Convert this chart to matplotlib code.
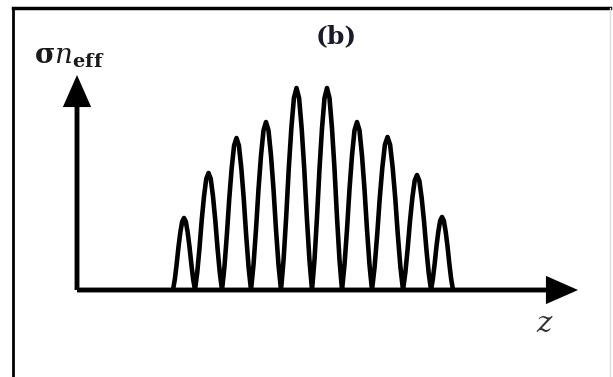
import numpy as np
import matplotlib.pyplot as plt
from matplotlib.patches import FancyArrowPatch
from matplotlib.lines import Line2D

plt.rcParams['mathtext.fontset'] = 'dejavuserif'

# peak edges along z (left/right feet) and peak heights
peak_left = [96, 118, 145, 174, 204, 235, 265, 295, 326, 354]
peak_right = [118, 145, 174, 204, 235, 265, 295, 326, 354, 376]
peak_height = [72, 117, 152, 168, 202, 202, 168, 153, 115, 73]

# shape of one lobe (fraction of height), sampled across the lobe width
lobe_u = [0, 1/12, 2/12, 3/12, 4/12, 5/12, 6/12, 7/12, 8/12, 9/12, 10/12, 11/12, 1]
lobe_f = [0, 0.15, 0.36, 0.6, 0.8, 0.95, 1.0, 0.95, 0.8, 0.6, 0.36, 0.15, 0]

zs = []
ys = []
for a, b, h in zip(peak_left, peak_right, peak_height):
    for u, f in zip(lobe_u, lobe_f):
        zs.append(a + u * (b - a))
        ys.append(h * f)

fig = plt.figure(figsize=(6.13, 3.77), dpi=100)
fig.patch.set_facecolor('white')

W, H = 613.0, 377.0
ax = fig.add_axes([77 / W, (H - 290) / H, (578 - 77) / W, (290 - 75) / H])
ax.plot(zs, ys, color='black', lw=3.3, solid_joinstyle='round')
ax.set_xlim(0, 501)
ax.set_ylim(0, 215)
ax.axis('off')

# axis arrows
for end in [(1, 0), (0, 1)]:
    arr = FancyArrowPatch((0, 0), end, transform=ax.transAxes,
                          arrowstyle='-|>,head_length=17,head_width=7.5',
                          mutation_scale=1, lw=3.5, color='black',
                          shrinkA=0, shrinkB=0, clip_on=False,
                          capstyle='butt', joinstyle='miter')
    ax.add_patch(arr)

# labels
fig.text(336 / W, 1 - 36 / H, '(b)', family='DejaVu Serif', weight='bold',
         fontsize=18, ha='center', va='center', color='#1a1a2e')
fig.text(34 / W, 1 - 64 / H, r'$\mathbf{\sigma}\mathit{n}_{\mathbf{eff}}$', fontsize=20,
         ha='left', va='baseline', color='#1a1a1a')
fig.text(545 / W, 1 - 324 / H, r'$z$', fontsize=21, ha='center',
         va='center', color='#333333')

# frame around the panel (top + left dark, faint right)
fig.add_artist(Line2D([13 / W, 610 / W], [1 - 8 / H, 1 - 8 / H], color='black', lw=2.5))
fig.add_artist(Line2D([13 / W, 13 / W], [0, 1 - 8 / H], color='black', lw=2.0))
fig.add_artist(Line2D([610 / W, 610 / W], [0, 1 - 8 / H], color='#dddddd', lw=1.0))

fig.savefig('out.png', dpi=100, facecolor='white')
